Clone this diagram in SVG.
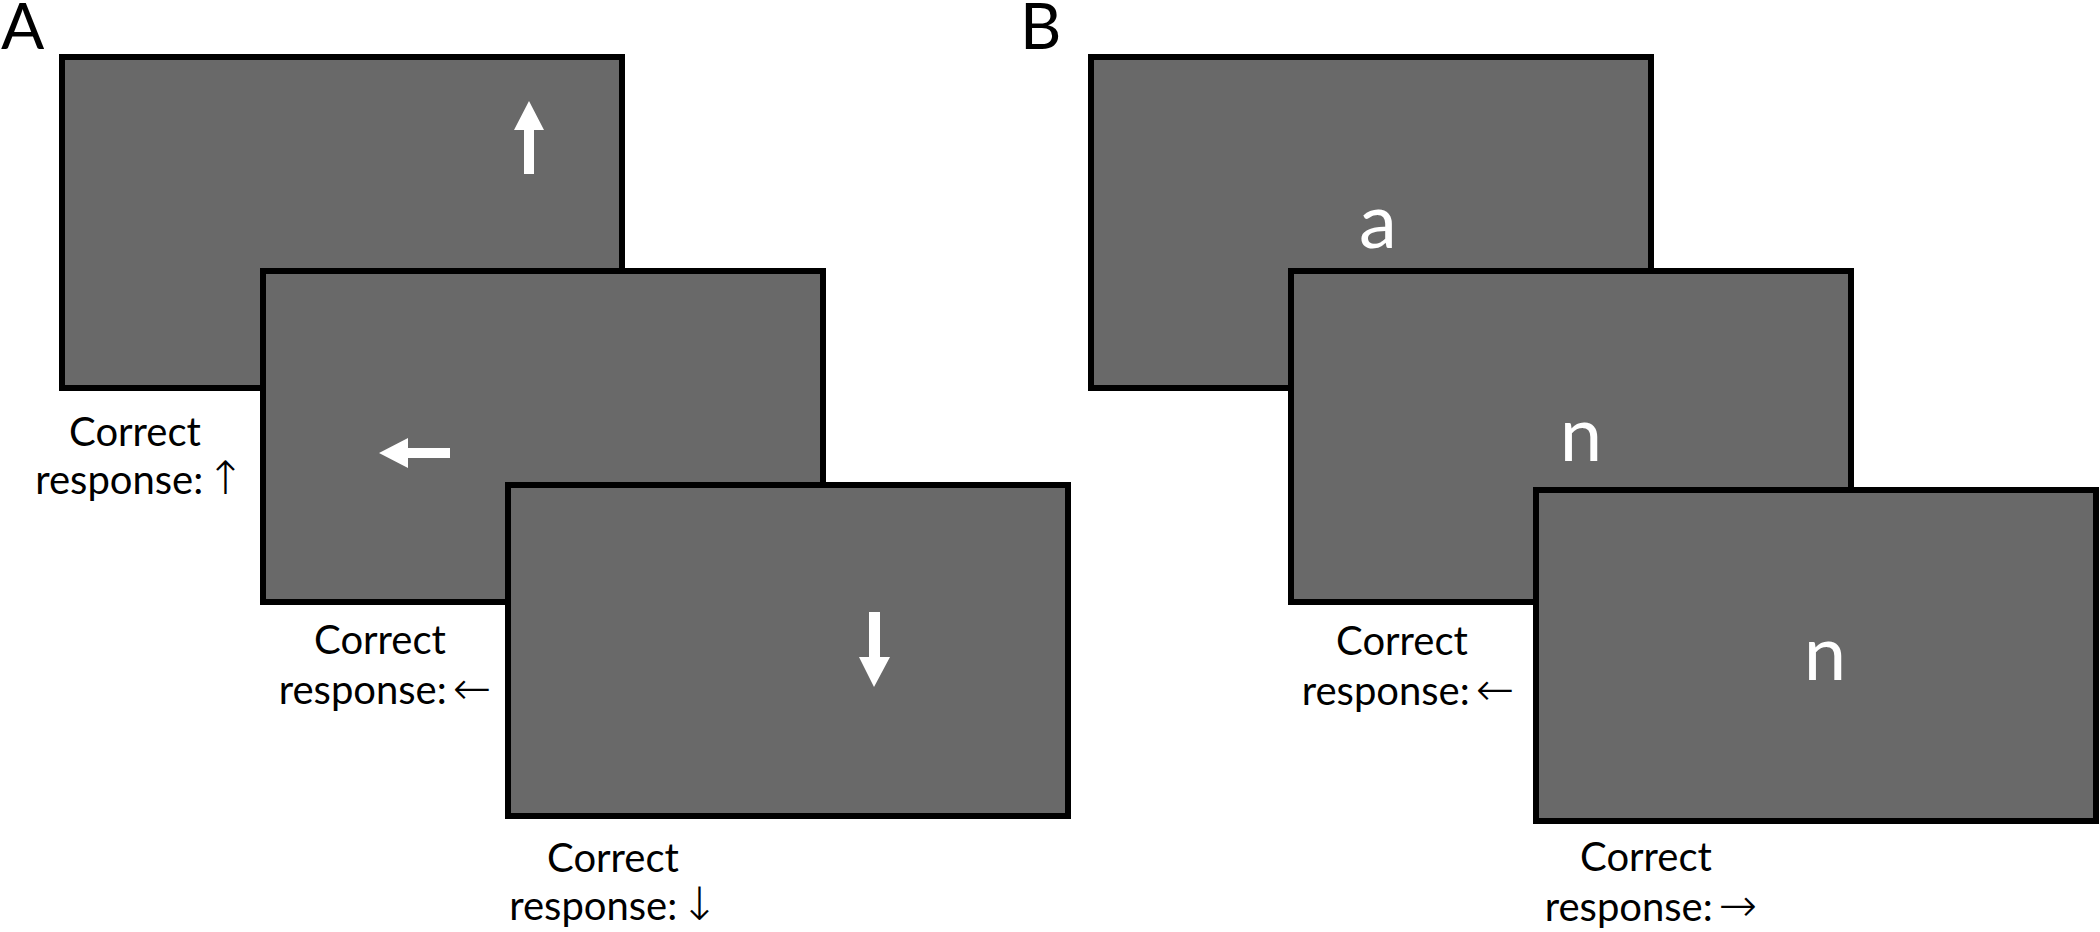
<svg xmlns="http://www.w3.org/2000/svg" width="2100" height="932" viewBox="0 0 2100 932">
<style>
.scr{fill:#696969;stroke:#000;stroke-width:6}
.lbl{font-family:Lato,"Open Sans","Liberation Sans",sans-serif;font-size:40px;fill:#000;text-anchor:middle}
.arr{font-family:"DejaVu Sans","Liberation Sans",sans-serif;font-size:46px;font-weight:200}
.pan{font-family:Lato,"Open Sans","Liberation Sans",sans-serif;font-size:64px;fill:#000}
.stim{fill:#fff}
.let{font-family:Lato,"Open Sans","Liberation Sans",sans-serif;font-size:76px;fill:#fff;text-anchor:middle}
</style>
<rect width="2100" height="932" fill="#fff"/>
<text class="pan" x="1" y="49">A</text>
<text class="pan" x="1020" y="49">B</text>
<g id="a1">
<rect class="scr" x="62" y="57" width="560" height="331"/>
<polygon class="stim" points="529,101 544,130 534,130 534,174 524,174 524,130 514,130"/>
</g>
<g id="a1-label">
<text class="lbl" x="135" y="446">Correct</text>
<text class="lbl" x="140" y="494">response:<tspan class="arr" dx="3">↑</tspan></text>
</g>
<g id="a2">
<rect class="scr" x="263" y="271" width="560" height="331"/>
<polygon class="stim" points="379,453 408,438 408,448 450,448 450,458 408,458 408,468"/>
</g>
<g id="a2-label">
<text class="lbl" x="380" y="654">Correct</text>
<text class="lbl" x="385" y="704">response:<tspan class="arr" dx="6">←</tspan></text>
</g>
<g id="a3">
<rect class="scr" x="508" y="485" width="560" height="331"/>
<polygon class="stim" points="874,687 859,657 869,657 869,612 880,612 880,657 890,657"/>
</g>
<g id="a3-label">
<text class="lbl" x="613" y="872">Correct</text>
<text class="lbl" x="614" y="920">response:<tspan class="arr" dx="3">↓</tspan></text>
</g>
<g id="b1">
<rect class="scr" x="1091" y="57" width="560" height="331"/>
<text class="let" x="1378" y="248">a</text>
</g>
<g id="b2">
<rect class="scr" x="1291" y="271" width="560" height="331"/>
<text class="let" x="1581" y="461">n</text>
</g>
<g id="b2-label">
<text class="lbl" x="1402" y="655">Correct</text>
<text class="lbl" x="1408" y="705">response:<tspan class="arr" dx="6">←</tspan></text>
</g>
<g id="b3">
<rect class="scr" x="1536" y="490" width="560" height="331"/>
<text class="let" x="1825" y="680">n</text>
</g>
<g id="b3-label">
<text class="lbl" x="1646" y="871">Correct</text>
<text class="lbl" x="1651" y="921">response:<tspan class="arr" dx="6">→</tspan></text>
</g>
<g id="connectors"/>
</svg>
